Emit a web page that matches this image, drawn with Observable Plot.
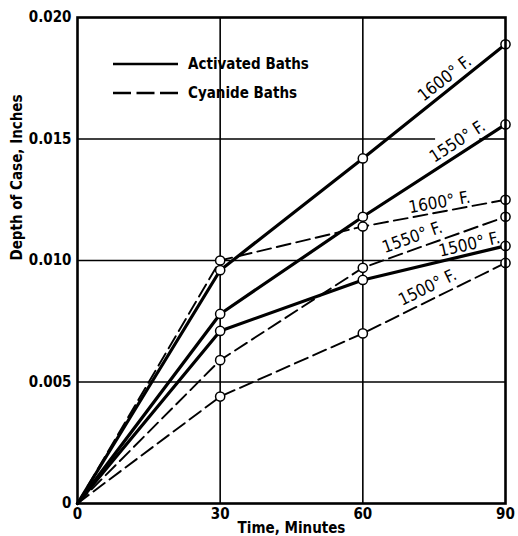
<!DOCTYPE html>
<html>
<head>
<meta charset="utf-8">
<script src="https://cdn.jsdelivr.net/npm/d3@7"></script>
<script src="https://cdn.jsdelivr.net/npm/@observablehq/plot@0.6"></script>
<style>
  html, body { margin: 0; padding: 0; background: #fff; }
  #chart { position: relative; width: 518px; height: 536px; }
</style>
</head>
<body>
<div id="chart"></div>
<script>
// ---- data ----
const times = [0, 30, 60, 90];
const activated1600 = [0, 0.0096, 0.0142, 0.0189];
const activated1550 = [0, 0.0078, 0.0118, 0.0156];
const activated1500 = [0, 0.0071, 0.0092, 0.0106];
const cyanide1600 = [0, 0.0100, 0.0114, 0.0125];
const cyanide1550 = [0, 0.0059, 0.0097, 0.0118];
const cyanide1500 = [0, 0.0044, 0.0070, 0.0099];

const xTicks = [0, 30, 60, 90];
const yTicks = [0, 0.005, 0.010, 0.015, 0.020];

const seriesList = [
  {name: "A1600", type: "Activated", values: activated1600},
  {name: "A1550", type: "Activated", values: activated1550},
  {name: "A1500", type: "Activated", values: activated1500},
  {name: "C1600", type: "Cyanide", values: cyanide1600},
  {name: "C1550", type: "Cyanide", values: cyanide1550},
  {name: "C1500", type: "Cyanide", values: cyanide1500}
];

const lineLabels = [
  {text: "1600° F.", x: 77.2, y: 0.01749, angle: -38},
  {text: "1550° F.", x: 79.9, y: 0.01490, angle: -33},
  {text: "1600° F.", x: 76.1, y: 0.01239, angle: -10},
  {text: "1550° F.", x: 70.4, y: 0.01095, angle: -20},
  {text: "1500° F.", x: 82.4, y: 0.01066, angle: -13},
  {text: "1500° F.", x: 73.6, y: 0.00889, angle: -26}
];

const legendItems = [
  {label: "Activated Baths", dash: null},
  {label: "Cyanide Baths", dash: "18,5.5"}
];

// ---- build table ----
const rows = seriesList.flatMap(s => s.values.map((v, i) => ({series: s.name, type: s.type, time: times[i], depth: v})));
const activatedRows = rows.filter(d => d.type === "Activated");
const cyanideRows = rows.filter(d => d.type === "Cyanide");
const pointRows = rows.filter(d => d.time > 0);

const FONT = "'Liberation Sans Narrow', 'DejaVu Sans Condensed', 'Arial Narrow', sans-serif";

const plot = Plot.plot({
  width: 518,
  height: 536,
  marginLeft: 77,
  marginRight: 13,
  marginTop: 17,
  marginBottom: 33,
  style: {fontFamily: FONT, fontSize: "15px", fontWeight: "bold", background: "#fff", color: "#000"},
  x: {domain: [0, 90]},
  y: {domain: [0, 0.020]},
  marks: [
    // grid
    Plot.ruleX([30, 60], {stroke: "#000", strokeWidth: 1.6}),
    Plot.ruleY([0.005, 0.010], {stroke: "#000", strokeWidth: 1.6}),
    Plot.ruleY([0.015], {x1: 0, x2: 75.3, stroke: "#000", strokeWidth: 1.6}),
    Plot.ruleY([0.015], {x1: 84.6, x2: 90, stroke: "#000", strokeWidth: 1.6}),
    // axes
    Plot.axisX(xTicks, {tickSize: 0, tickPadding: 5, tickFormat: d => String(d), label: null, fontSize: 15, fontWeight: "bold"}),
    Plot.axisY(yTicks, {tickSize: 0, tickPadding: 6, tickFormat: d => d === 0 ? "0" : d.toFixed(3), label: null, fontSize: 15, fontWeight: "bold"}),
    Plot.text(["Depth of Case, Inches"], {frameAnchor: "left", dx: -60, rotate: -90, fontSize: 15, fontWeight: "bold"}),
    Plot.text(["Time, Minutes"], {frameAnchor: "bottom", dy: 29, fontSize: 15, fontWeight: "bold"}),
    // lines
    Plot.line(cyanideRows, {x: "time", y: "depth", z: "series", stroke: "#000", strokeWidth: 1.9, strokeDasharray: "14,6"}),
    Plot.line(activatedRows, {x: "time", y: "depth", z: "series", stroke: "#000", strokeWidth: 3.2}),
    Plot.dot(pointRows, {x: "time", y: "depth", r: 4.6, fill: "#fff", stroke: "#000", strokeWidth: 1.5}),
    // line labels
    Plot.text(lineLabels, {x: "x", y: "y", text: "text", rotate: "angle", fontSize: 17, fontWeight: "normal", fill: "#000"}),
    Plot.frame({stroke: "#000", strokeWidth: 2.6})
  ]
});

document.getElementById("chart").appendChild(plot);

// legend drawn inside the plot area
const svg = d3.select(plot);
const lg = svg.append("g").attr("font-family", FONT).attr("font-weight", "bold").attr("font-size", 15).attr("text-anchor", "start");
legendItems.forEach((item, i) => {
  const y = 64 + i * 29;
  lg.append("line").attr("x1", 113).attr("x2", 178).attr("y1", y).attr("y2", y)
    .attr("stroke", "#000").attr("stroke-width", 2.6)
    .attr("stroke-dasharray", item.dash);
  lg.append("text").attr("x", 188).attr("y", y).attr("dy", "0.35em").attr("text-anchor", "start").text(item.label);
});
</script>
</body>
</html>
